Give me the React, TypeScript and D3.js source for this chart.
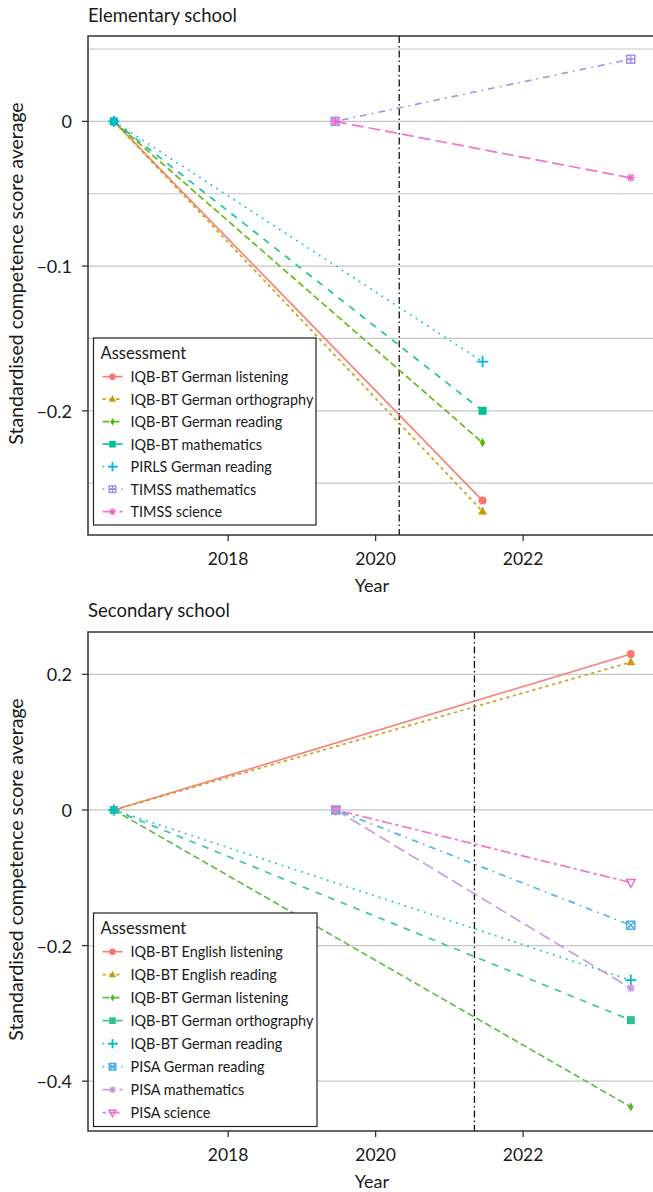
import React from "react";
import * as d3 from "d3";

// shared x axis ticks
const yearTicks = [2018, 2020, 2022];

// Elementary school
const elemNames = [
  "IQB-BT German listening",
  "IQB-BT German orthography",
  "IQB-BT German reading",
  "IQB-BT mathematics",
  "PIRLS German reading",
  "TIMSS mathematics",
  "TIMSS science",
];
const elemStartYear = [2016.45, 2016.45, 2016.45, 2016.45, 2016.45, 2019.45, 2019.45];
const elemEndYear = [2021.45, 2021.45, 2021.45, 2021.45, 2021.45, 2023.46, 2023.46];
const elemStartValue = [0, 0, 0, 0, 0, 0, 0];
const elemEndValue = [-0.262, -0.2695, -0.222, -0.2, -0.166, 0.043, -0.039];
const elemTicks = [0, -0.1, -0.2];
const elemGrid = [0.05, 0, -0.05, -0.1, -0.15, -0.2, -0.25];
const elemCutoff = 2020.32;

// Secondary school
const secNames = [
  "IQB-BT English listening",
  "IQB-BT English reading",
  "IQB-BT German listening",
  "IQB-BT German orthography",
  "IQB-BT German reading",
  "PISA German reading",
  "PISA mathematics",
  "PISA science",
];
const secStartYear = [2016.45, 2016.45, 2016.45, 2016.45, 2016.45, 2019.46, 2019.46, 2019.46];
const secEndYear = [2023.46, 2023.46, 2023.46, 2023.46, 2023.46, 2023.46, 2023.46, 2023.46];
const secStartValue = [0, 0, 0, 0, 0, 0, 0, 0];
const secEndValue = [0.23, 0.218, -0.438, -0.31, -0.251, -0.17, -0.263, -0.107];
const secTicks = [0.2, 0, -0.2, -0.4];
const secGrid = [0.2, 0, -0.2, -0.4];
const secCutoff = 2021.34;

// styles
const elemColors = ["#F8766D", "#C49A00", "#53B400", "#00C094", "#00B6EB", "#9E8AE8", "#F064C8"];
const elemDash = [[], [2, 2], [4, 2], [4, 4], [1, 3], [1, 3, 4, 3], [7, 3]];
const elemShapes = ["circle", "triangle", "diamond", "square", "plus", "squarePlus", "asterisk"];

const secColors = ["#F8766D", "#C99A10", "#55B43A", "#2EC096", "#00BCC4", "#3FAEEA", "#C195DE", "#F06CC0"];
const secDash = [[], [2, 2], [4, 2], [4, 4], [1, 3], [1, 3, 4, 3], [7, 3], [2, 2, 6, 2]];
const secShapes = ["circle", "triangle", "diamond", "square", "plus", "squareCross", "asterisk", "triangleDown"];

const FONT = "Lato, 'Open Sans', sans-serif";
const LW = 1.7;
const xDomain = [2016.1, 2023.81];

const fmt = (v: number) => (v < 0 ? "\u2212" + Math.abs(v) : String(v));

function Marker({ shape, cx, cy, color, s = 4 }: any) {
  switch (shape) {
    case "circle":
      return <circle cx={cx} cy={cy} r={s} fill={color} />;
    case "triangle":
      return (
        <polygon
          points={`${cx},${cy - s * 1.2} ${cx - s * 1.1},${cy + s * 0.75} ${cx + s * 1.1},${cy + s * 0.75}`}
          fill={color}
        />
      );
    case "diamond":
      return (
        <polygon
          points={`${cx},${cy - s * 1.15} ${cx + s * 0.65},${cy} ${cx},${cy + s * 1.15} ${cx - s * 0.65},${cy}`}
          fill={color}
        />
      );
    case "square":
      return <rect x={cx - s} y={cy - s} width={s * 2} height={s * 2} fill={color} />;
    case "plus":
      return (
        <g stroke={color} strokeWidth={1.8}>
          <line x1={cx - s * 1.4} x2={cx + s * 1.4} y1={cy} y2={cy} />
          <line x1={cx} x2={cx} y1={cy - s * 1.4} y2={cy + s * 1.4} />
        </g>
      );
    case "squarePlus":
      return (
        <g stroke={color} strokeWidth={1.4} fill="none">
          <rect x={cx - s} y={cy - s} width={s * 2} height={s * 2} />
          <line x1={cx - s} x2={cx + s} y1={cy} y2={cy} />
          <line x1={cx} x2={cx} y1={cy - s} y2={cy + s} />
        </g>
      );
    case "squareCross":
      return (
        <g stroke={color} strokeWidth={1.4} fill="none">
          <rect x={cx - s} y={cy - s} width={s * 2} height={s * 2} />
          <line x1={cx - s} x2={cx + s} y1={cy - s} y2={cy + s} />
          <line x1={cx - s} x2={cx + s} y1={cy + s} y2={cy - s} />
        </g>
      );
    case "asterisk":
      return (
        <g stroke={color} strokeWidth={1.4}>
          <line x1={cx - s} x2={cx + s} y1={cy} y2={cy} />
          <line x1={cx} x2={cx} y1={cy - s} y2={cy + s} />
          <line x1={cx - s * 0.75} x2={cx + s * 0.75} y1={cy - s * 0.75} y2={cy + s * 0.75} />
          <line x1={cx - s * 0.75} x2={cx + s * 0.75} y1={cy + s * 0.75} y2={cy - s * 0.75} />
        </g>
      );
    case "triangleDown":
      return (
        <polygon
          points={`${cx - s * 1.1},${cy - s * 0.75} ${cx + s * 1.1},${cy - s * 0.75} ${cx},${cy + s * 1.2}`}
          fill="none"
          stroke={color}
          strokeWidth={1.4}
        />
      );
    default:
      return null;
  }
}

function Panel({
  title,
  titleY,
  top,
  bottom,
  yDomain,
  names,
  startYear,
  endYear,
  startValue,
  endValue,
  ticks,
  grid,
  cutoff,
  colors,
  dashes,
  shapes,
  legend,
}: any) {
  const left = 88;
  const right = 656.6;
  const x = d3.scaleLinear().domain(xDomain).range([left, right]);
  const y = d3.scaleLinear().domain(yDomain).range([top, bottom]);
  const line = d3
    .line<[number, number]>()
    .x((d) => x(d[0]))
    .y((d) => y(d[1]));

  const series = names.map((name: string, i: number) => ({
    name,
    points: [
      [startYear[i], startValue[i]],
      [endYear[i], endValue[i]],
    ] as [number, number][],
    color: colors[i],
    dash: dashes[i].map((v: number) => v * LW).join(" "),
    shape: shapes[i],
  }));

  return (
    <g fontFamily={FONT} fill="#1a1a1a">
      <text x={left} y={titleY} fontSize={18.5}>
        {title}
      </text>
      {grid.map((g: number) => (
        <line key={g} x1={left} x2={right} y1={y(g)} y2={y(g)} stroke="#c6c6c6" strokeWidth={1.2} />
      ))}
      <line
        x1={x(cutoff)}
        x2={x(cutoff)}
        y1={top}
        y2={bottom}
        stroke="#111"
        strokeWidth={1.3}
        strokeDasharray="7 3 1.5 3"
      />
      {series.map((s: any) => (
        <path
          key={s.name}
          d={line(s.points) || ""}
          fill="none"
          stroke={s.color}
          strokeOpacity={0.9}
          strokeWidth={LW}
          strokeDasharray={s.dash}
        />
      ))}
      {series.map((s: any) =>
        s.points.map((p: [number, number], j: number) => (
          <Marker key={s.name + j} shape={s.shape} cx={x(p[0])} cy={y(p[1])} color={s.color} />
        ))
      )}
      <rect x={left} y={top} width={right - left} height={bottom - top} fill="none" stroke="#333" strokeWidth={1.5} />
      {ticks.map((t: number) => (
        <g key={t}>
          <line x1={left - 6} x2={left} y1={y(t)} y2={y(t)} stroke="#333" strokeWidth={1.3} />
          <text x={left - 16} y={y(t)} textAnchor="end" dominantBaseline="central" fontSize={18}>
            {fmt(t)}
          </text>
        </g>
      ))}
      {yearTicks.map((t) => (
        <g key={t}>
          <line x1={x(t)} x2={x(t)} y1={bottom} y2={bottom + 6} stroke="#333" strokeWidth={1.3} />
          <text x={x(t)} y={bottom + 30} textAnchor="middle" fontSize={17.5}>
            {t}
          </text>
        </g>
      ))}
      <text x={372} y={bottom + 57} textAnchor="middle" fontSize={18}>
        Year
      </text>
      <text
        transform={`translate(23,${(top + bottom) / 2 - 12}) rotate(-90)`}
        textAnchor="middle"
        fontSize={19.5}
      >
        Standardised competence score average
      </text>
      <g>
        <rect
          x={legend.x}
          y={legend.y}
          width={legend.w}
          height={legend.h}
          fill="#fff"
          stroke="#222"
          strokeWidth={1.2}
        />
        <text x={legend.x + 7} y={legend.y + 21} fontSize={16.5}>
          Assessment
        </text>
        {series.map((s: any, i: number) => {
          const cy = legend.y + legend.first + i * legend.step;
          return (
            <g key={s.name}>
              <line
                x1={legend.x + 9}
                x2={legend.x + 29}
                y1={cy}
                y2={cy}
                stroke={s.color}
                strokeOpacity={0.9}
                strokeWidth={LW}
                strokeDasharray={s.dash}
              />
              <Marker shape={s.shape} cx={legend.x + 19} cy={cy} color={s.color} s={3.3} />
              <text x={legend.x + 37} y={cy} dominantBaseline="central" fontSize={14.4}>
                {s.name}
              </text>
            </g>
          );
        })}
      </g>
    </g>
  );
}

export default function App() {
  return (
    <svg
      width={653}
      height={1192}
      style={{ position: "absolute", left: 0, top: 0, background: "#fff" }}
    >
      <Panel
        title="Elementary school"
        titleY={22}
        top={36}
        bottom={535}
        yDomain={[0.059, -0.2858]}
        names={elemNames}
        startYear={elemStartYear}
        endYear={elemEndYear}
        startValue={elemStartValue}
        endValue={elemEndValue}
        ticks={elemTicks}
        grid={elemGrid}
        cutoff={elemCutoff}
        colors={elemColors}
        dashes={elemDash}
        shapes={elemShapes}
        legend={{ x: 93.5, y: 338, w: 222.5, h: 187, first: 38.7, step: 22.5 }}
      />
      <Panel
        title="Secondary school"
        titleY={617}
        top={632}
        bottom={1131}
        yDomain={[0.2625, -0.4735]}
        names={secNames}
        startYear={secStartYear}
        endYear={secEndYear}
        startValue={secStartValue}
        endValue={secEndValue}
        ticks={secTicks}
        grid={secGrid}
        cutoff={secCutoff}
        colors={secColors}
        dashes={secDash}
        shapes={secShapes}
        legend={{ x: 93.5, y: 913, w: 223.5, h: 213.5, first: 38.7, step: 23 }}
      />
    </svg>
  );
}
